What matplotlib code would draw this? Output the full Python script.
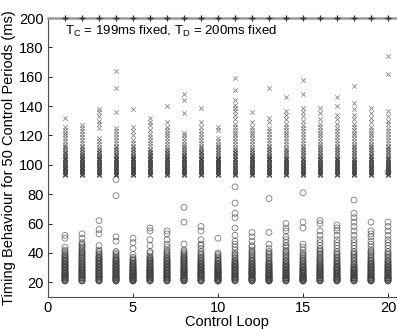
import matplotlib
matplotlib.use("Agg")
import matplotlib.pyplot as plt

plt.rcParams['font.family'] = ['Liberation Sans', 'DejaVu Sans']
plt.rcParams['mathtext.fontset'] = 'custom'
plt.rcParams['mathtext.rm'] = 'Liberation Sans'
plt.rcParams['mathtext.it'] = 'Liberation Sans'

control_loops = [1, 2, 3, 4, 5, 6, 7, 8, 9, 10, 11, 12, 13, 14, 15, 16, 17, 18, 19, 20]
deadline_ms = [200] * 20

# Timing values (ms) - circles (lower group)
C1 = [21,21,22,22,23,23,24,24,25,25,26,26,27,27,28,29,29,30,30,31,32,32,33,34,34,35,36,36,37,38,39,40,41,42,44,22,24,26,28,31,33,21,23,25,27,30,35,38,50,52]
C2 = [21,21,22,23,23,24,25,25,26,27,27,28,28,29,30,30,31,32,33,33,34,35,36,37,38,38,39,40,41,42,43,44,45,46,47,22,24,26,29,31,34,21,23,25,28,32,36,40,50,53]
C3 = [21,21,22,22,23,24,24,25,26,26,27,28,28,29,30,30,31,32,33,34,35,35,36,37,38,39,40,41,42,22,23,25,27,29,31,33,36,21,24,26,28,30,32,34,37,45,53,56,62,24]
C4 = [21,21,22,22,23,23,24,25,25,26,27,27,28,29,29,30,31,31,32,33,34,35,36,37,38,39,40,41,21,22,23,24,26,28,30,32,34,36,22,24,25,27,29,31,33,35,48,51,79,90]
C5 = [21,21,21,22,22,23,23,24,24,25,25,26,26,27,27,28,28,29,30,30,31,32,33,34,35,36,37,22,23,24,25,26,27,28,29,31,33,21,22,24,26,28,30,32,35,39,43,47,50,23]
C6 = [21,21,22,22,23,24,24,25,25,26,27,27,28,29,29,30,31,32,33,34,35,36,37,38,40,41,22,23,24,26,27,28,30,31,33,35,21,23,25,26,28,29,32,34,36,45,49,55,57,24]
C7 = [21,21,22,22,23,23,24,24,25,26,26,27,28,28,29,30,30,31,32,33,34,35,36,37,38,39,40,41,42,44,22,23,25,27,29,31,33,35,21,24,26,28,30,32,34,36,46,49,53,55]
C8 = [21,21,22,22,23,23,24,25,25,26,27,27,28,29,30,30,31,32,33,34,35,36,37,38,39,40,42,22,23,24,26,28,29,31,33,35,37,21,22,25,27,28,30,32,34,36,41,46,61,71]
C9 = [21,21,22,22,23,24,24,25,25,26,27,27,28,29,29,30,31,32,32,33,34,35,36,37,38,39,40,41,43,45,22,23,25,26,28,30,31,33,21,24,26,27,29,31,34,36,46,49,55,58]
C10 = [21,21,21,22,22,23,23,24,24,25,25,26,26,27,27,28,28,29,29,30,30,31,32,33,34,35,36,37,38,39,40,22,23,24,25,26,27,28,30,32,21,22,24,25,27,29,31,33,35,50]
C11 = [21,22,22,23,23,24,24,25,26,26,27,28,28,29,30,31,31,32,33,34,35,36,37,38,39,40,42,44,46,22,23,25,27,29,30,32,34,21,24,26,28,31,33,48,52,57,64,67,74,85]
C12 = [21,21,22,22,23,23,24,25,25,26,26,27,28,28,29,30,30,31,32,33,34,35,36,37,38,39,40,41,42,44,45,22,23,24,26,27,29,31,33,21,22,25,27,28,30,32,35,48,51,54]
C13 = [21,21,21,22,22,23,23,24,24,25,25,26,26,27,28,28,29,30,30,31,32,33,34,35,36,37,38,39,40,41,43,22,23,24,25,26,28,29,31,33,21,22,23,25,27,30,32,46,54,77]
C14 = [21,21,22,22,23,23,24,25,25,26,27,27,28,29,29,30,31,32,33,34,35,36,37,38,39,40,41,42,44,45,47,22,23,24,26,28,30,32,34,21,23,25,27,29,31,49,51,55,57,60]
C15 = [21,21,21,22,22,23,23,24,24,25,25,26,27,27,28,29,29,30,31,32,33,34,35,36,37,38,39,40,42,44,22,23,24,25,27,28,30,32,34,21,22,24,26,28,31,46,57,61,81,23]
C16 = [21,21,22,22,23,23,24,25,25,26,27,27,28,29,30,30,31,32,33,34,35,36,37,38,39,40,41,42,43,45,47,49,22,24,26,28,30,32,34,36,21,23,25,27,29,31,52,55,60,62]
C17 = [21,21,22,22,23,23,24,24,25,26,26,27,28,28,29,30,30,31,32,33,34,35,36,37,38,39,40,41,43,45,47,22,23,25,27,29,31,33,35,21,22,24,26,28,30,49,52,55,57,59]
C18 = [21,21,22,22,23,23,24,25,25,26,27,27,28,29,29,30,31,32,33,34,35,36,37,38,39,40,41,43,45,47,22,23,24,26,28,30,32,21,23,25,27,29,49,52,55,58,61,64,67,76]
C19 = [21,21,22,22,23,23,24,25,25,26,27,27,28,29,30,30,31,32,33,34,35,36,37,38,39,40,41,42,44,46,48,22,23,25,27,29,31,33,35,21,22,24,26,28,30,32,51,53,55,61]
C20 = [21,21,22,22,23,23,24,25,25,26,27,27,28,29,29,30,31,32,33,34,35,36,37,38,39,40,41,43,45,47,22,23,24,26,28,30,32,34,21,23,25,27,29,31,49,52,55,58,61,95]

# Timing values (ms) - crosses (upper group)
X1 = [93,93,94,94,95,95,96,96,97,97,98,98,99,99,100,100,101,101,102,103,103,104,105,105,106,107,108,109,110,111,112,113,114,116,118,120,122,124,126,132,94,96,98,100,102,104,106,108,95,97]
X2 = [93,93,94,94,95,95,96,96,97,97,98,98,99,100,100,101,101,102,103,103,104,105,106,106,107,108,109,110,111,112,113,115,117,119,121,123,125,127,94,96,98,99,101,103,105,107,95,97,100,102]
X3 = [93,93,94,94,95,95,96,97,97,98,98,99,100,100,101,102,102,103,104,105,106,107,108,109,110,112,114,116,118,125,128,130,133,136,138,94,96,98,99,101,103,105,95,97,100,102,104,106,108,111]
X4 = [93,93,94,94,95,95,96,96,97,98,98,99,99,100,101,101,102,103,104,104,105,106,107,108,109,110,111,112,113,115,117,119,121,123,125,136,152,164,94,96,97,99,100,102,103,105,107,95,98,101]
X5 = [93,94,94,95,95,96,96,97,97,98,98,99,99,100,100,101,102,102,103,104,105,105,106,107,108,109,110,111,112,113,115,117,120,123,126,138,94,95,97,98,100,101,103,104,106,93,96,99,102,105]
X6 = [93,93,94,94,95,95,96,97,97,98,98,99,100,100,101,102,102,103,104,105,106,107,108,109,110,111,113,115,117,119,121,124,127,129,132,94,96,98,100,102,104,106,95,97,99,101,103,105,107,109]
X7 = [93,93,94,94,95,96,96,97,97,98,99,99,100,101,101,102,103,103,104,105,106,107,108,109,110,111,112,114,116,118,120,122,124,126,129,140,94,95,97,98,100,102,104,106,108,96,99,101,103,105]
X8 = [93,93,94,94,95,95,96,97,97,98,98,99,100,100,101,102,103,103,104,105,106,107,108,109,110,111,112,113,114,116,118,120,122,135,144,148,94,96,97,99,100,102,104,106,95,98,101,103,105,107]
X9 = [93,93,94,94,95,96,96,97,97,98,99,99,100,101,101,102,103,104,104,105,106,107,108,109,110,111,112,113,115,117,119,121,123,126,129,139,94,96,98,100,102,104,95,97,99,101,103,105,107,109]
X10 = [93,93,94,94,95,95,96,96,97,97,98,98,99,99,100,100,101,101,102,102,103,103,104,104,105,105,106,107,108,109,110,111,112,113,114,116,118,124,126,94,95,96,97,98,99,100,101,102,103,104]
X11 = [93,93,94,94,95,95,96,97,97,98,99,99,100,101,102,102,103,104,105,106,107,108,109,110,111,112,114,116,118,120,122,124,126,128,131,134,137,139,141,144,151,159,94,96,98,100,102,104,106,108]
X12 = [93,93,94,94,95,95,96,97,97,98,98,99,100,100,101,102,103,103,104,105,106,107,108,109,110,111,112,114,116,118,120,122,124,126,129,136,94,96,97,99,101,103,105,107,95,98,100,102,104,106]
X13 = [93,93,94,94,95,95,96,97,97,98,98,99,100,101,101,102,103,104,104,105,106,107,108,109,110,111,112,113,115,117,119,121,123,125,129,132,152,94,96,98,100,102,104,106,95,97,99,101,103,105]
X14 = [93,93,94,94,95,96,96,97,97,98,99,99,100,101,101,102,103,104,105,105,106,107,108,109,110,111,112,114,116,118,120,122,124,126,128,131,134,137,146,94,96,98,100,102,104,95,97,99,101,103]
X15 = [93,93,94,94,95,95,96,97,97,98,99,99,100,101,102,102,103,104,105,106,107,108,109,110,111,112,113,115,117,119,121,123,125,127,130,133,136,139,148,158,94,96,98,100,102,104,95,97,99,101]
X16 = [93,93,94,94,95,95,96,97,97,98,98,99,100,100,101,102,103,103,104,105,106,107,108,109,110,111,112,113,114,116,118,120,122,124,126,128,131,135,139,94,96,98,100,102,104,106,95,97,99,101]
X17 = [93,93,94,94,95,96,96,97,97,98,99,99,100,101,101,102,103,104,104,105,106,107,108,109,110,111,112,113,115,117,119,121,123,125,128,131,134,140,146,94,96,98,100,102,104,95,97,99,101,103]
X18 = [93,93,94,94,95,95,96,97,97,98,99,99,100,101,102,102,103,104,105,106,107,108,109,110,111,112,113,114,116,118,120,122,124,126,128,131,134,138,142,154,94,96,98,100,102,95,97,99,101,103]
X19 = [93,93,94,94,95,95,96,97,97,98,98,99,100,100,101,102,103,103,104,105,106,107,108,109,110,111,112,113,114,116,118,120,122,124,126,129,132,135,139,94,96,98,100,102,104,106,95,97,99,101]
X20 = [93,93,94,94,95,96,96,97,97,98,99,99,100,101,101,102,103,104,105,105,106,107,108,109,110,111,112,113,115,117,119,121,123,125,128,130,133,137,162,174,94,96,98,100,102,95,97,99,101,103]

circle_series = [C1, C2, C3, C4, C5, C6, C7, C8, C9, C10, C11, C12, C13, C14, C15, C16, C17, C18, C19, C20]
cross_series = [X1, X2, X3, X4, X5, X6, X7, X8, X9, X10, X11, X12, X13, X14, X15, X16, X17, X18, X19, X20]

annotation = r'T$_\mathrm{C}$ = 199ms fixed, T$_\mathrm{D}$ = 200ms fixed'
x_ticks = [0, 5, 10, 15, 20]
y_ticks = [20, 40, 60, 80, 100, 120, 140, 160, 180, 200]

fig = plt.figure(figsize=(3.97, 3.29), dpi=100)
ax = fig.add_axes([48 / 397, 32 / 329, 21 * 17 / 397, 279 / 329])

for loop, cvals, xvals in zip(control_loops, circle_series, cross_series):
    ax.scatter([loop] * len(cvals), cvals, s=18, marker='o', facecolors='none',
               edgecolors='0.25', linewidths=0.6, alpha=0.7, zorder=3)
    ax.scatter([loop] * len(xvals), xvals, s=10, marker='x', color='0.25',
               linewidths=0.6, alpha=0.65, zorder=3)

ax.axhline(deadline_ms[0], color='0.6', lw=1.8, zorder=4, clip_on=False)
ax.plot(control_loops, deadline_ms, linestyle='none', marker='+', ms=4.5,
        mew=1.0, color='0.2', zorder=5, clip_on=False)

ax.text(1.0, 190.5, annotation, fontsize=9.5, va='center', ha='left')

ax.set_xlim(0, 21)
ax.set_ylim(10, 200)
ax.set_xticks(x_ticks)
ax.set_yticks(y_ticks)
ax.tick_params(direction='in', length=3, width=0.6, labelsize=10.5, pad=3)
for sp in ['top', 'right']:
    ax.spines[sp].set_visible(False)
for sp in ['left', 'bottom']:
    ax.spines[sp].set_linewidth(0.8)
    ax.spines[sp].set_color('0.3')

ax.set_xlabel('Control Loop', fontsize=10.5, labelpad=0)
ax.set_ylabel('Timing Behaviour for 50 Control Periods (ms)', fontsize=10.5, labelpad=2)

fig.savefig('out.png', dpi=100)
